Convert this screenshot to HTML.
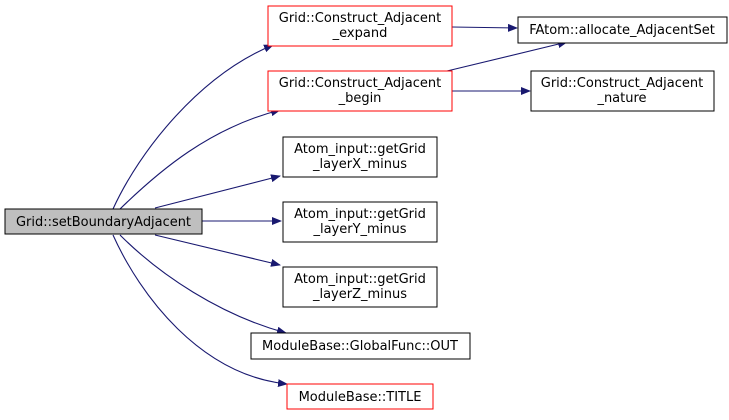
<!DOCTYPE html>
<html><head><meta charset="utf-8"><style>
body{margin:0;background:#fff;}
svg text{font-family:"DejaVu Sans",sans-serif;font-size:13px;fill:#000;}
</style></head><body>
<svg width="729" height="415" viewBox="0 0 729 415" xmlns="http://www.w3.org/2000/svg">
<defs><marker id="a" markerWidth="10" markerHeight="8" refX="9" refY="4" orient="auto" markerUnits="userSpaceOnUse"><path d="M0,0 L10,4 L0,8 Z" fill="#191970"/></marker></defs>
<g fill="none" stroke="#191970" stroke-width="1.1" marker-end="url(#a)">
<path d="M113,209 C140,150 200,75 273,45"/>
<path d="M120,209 C160,170 210,128 280,110"/>
<path d="M155,208 L280,176"/>
<path d="M202,221 L281,221"/>
<path d="M155,235 L280,265"/>
<path d="M120,235 C160,275 220,315 286,333"/>
<path d="M113,235 C140,295 200,375 287,384"/>
<path d="M452,27 L517,28"/>
<path d="M447,71 L567,42"/>
<path d="M452,91 L530,91"/>
</g>
<rect x="5" y="209" width="197" height="25" fill="#bfbfbf" stroke="#000"/>
<text x="103.5" y="226" text-anchor="middle" textLength="175" lengthAdjust="spacingAndGlyphs">Grid::setBoundaryAdjacent</text>
<g fill="#fff" stroke="#ff0000">
<rect x="268" y="6" width="184" height="40"/>
<rect x="268" y="71" width="184" height="40"/>
<rect x="287" y="384" width="146" height="25"/>
</g>
<g fill="#fff" stroke="#000">
<rect x="518" y="17" width="209" height="26"/>
<rect x="531" y="71" width="183" height="40"/>
<rect x="283" y="137" width="154" height="40"/>
<rect x="283" y="202" width="154" height="40"/>
<rect x="283" y="267" width="154" height="40"/>
<rect x="251" y="333" width="219" height="26"/>
</g>
<g text-anchor="middle">
<text x="360" y="22">Grid::Construct_Adjacent</text><text x="360" y="37">_expand</text>
<text x="360" y="87">Grid::Construct_Adjacent</text><text x="360" y="102">_begin</text>
<text x="622" y="34">FAtom::allocate_AdjacentSet</text>
<text x="622" y="87">Grid::Construct_Adjacent</text><text x="622" y="102">_nature</text>
<text x="360" y="153">Atom_input::getGrid</text><text x="360" y="168">_layerX_minus</text>
<text x="360" y="218">Atom_input::getGrid</text><text x="360" y="233">_layerY_minus</text>
<text x="360" y="283">Atom_input::getGrid</text><text x="360" y="298">_layerZ_minus</text>
<text x="360" y="350">ModuleBase::GlobalFunc::OUT</text>
<text x="360" y="401">ModuleBase::TITLE</text>
</g>
</svg>
</body></html>
